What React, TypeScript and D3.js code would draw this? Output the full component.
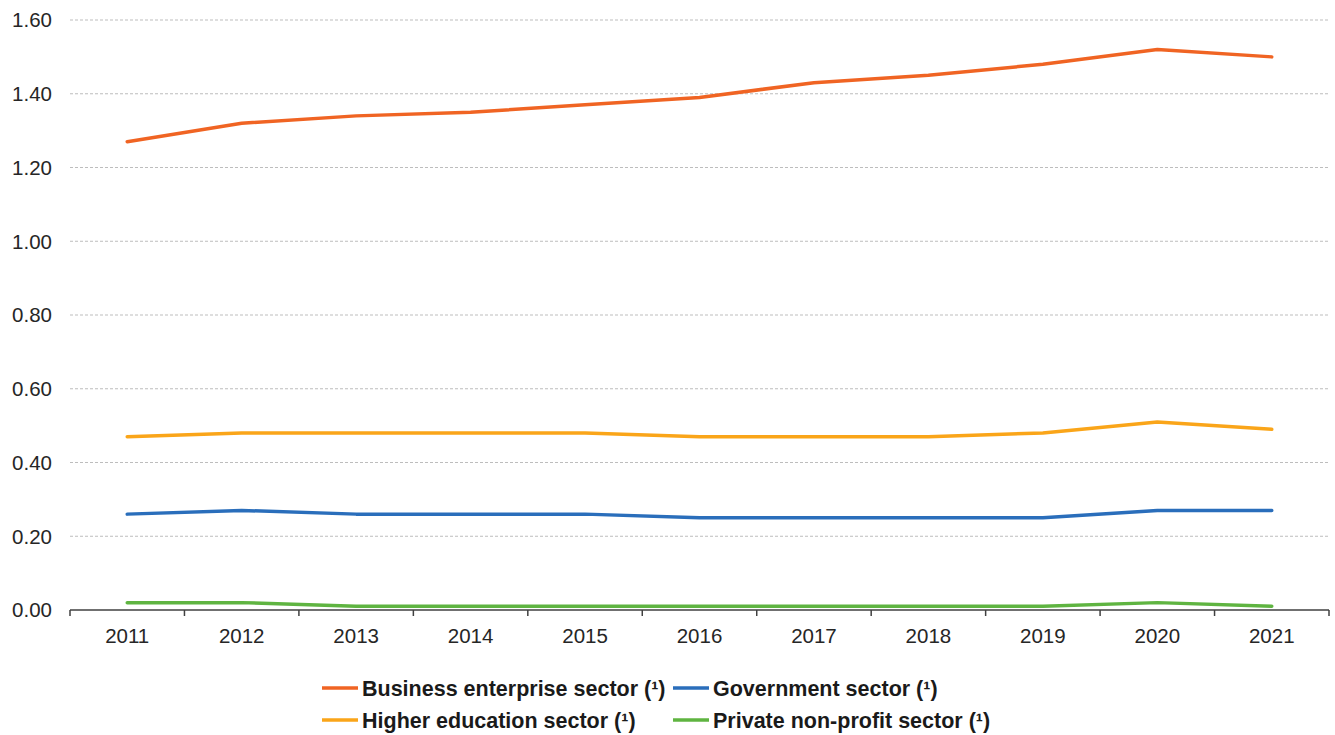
import React from "react";
import * as d3 from "d3";

const years = ["2011","2012","2013","2014","2015","2016","2017","2018","2019","2020","2021"];
const business = [1.27,1.32,1.34,1.35,1.37,1.39,1.43,1.45,1.48,1.52,1.50];
const government = [0.26,0.27,0.26,0.26,0.26,0.25,0.25,0.25,0.25,0.27,0.27];
const higher = [0.47,0.48,0.48,0.48,0.48,0.47,0.47,0.47,0.48,0.51,0.49];
const privateNP = [0.02,0.02,0.01,0.01,0.01,0.01,0.01,0.01,0.01,0.02,0.01];
const yTicks = [0,0.2,0.4,0.6,0.8,1.0,1.2,1.4,1.6];

const series = [
  { name: "Business enterprise sector (\u00B9)", values: business, color: "#F06423" },
  { name: "Government sector (\u00B9)", values: government, color: "#2A6EBB" },
  { name: "Higher education sector (\u00B9)", values: higher, color: "#FAA519" },
  { name: "Private non-profit sector (\u00B9)", values: privateNP, color: "#5FB441" },
];

const W = 1335, H = 735;
const left = 70, right = 1329, top = 20, bottom = 610;
const font = "'Liberation Sans', Arial, sans-serif";

export default function App() {
  const x = d3.scaleBand<string>().domain(years).range([left, right]);
  const y = d3.scaleLinear().domain([0, 1.6]).range([bottom, top]);
  const line = d3.line<number>()
    .x((_, i) => (x(years[i]) as number) + x.bandwidth() / 2)
    .y((d) => y(d));
  const boundaries = years.map((yr) => x(yr) as number).concat([right]);
  const legendPos = [
    { lx: 322, ly: 688 },
    { lx: 673, ly: 688 },
    { lx: 322, ly: 720 },
    { lx: 673, ly: 720 },
  ];
  return (
    <svg width={W} height={H} style={{ position: "absolute", left: 0, top: 0, background: "#fff" }}>
      {yTicks.map((t) => (
        <g key={t}>
          {t > 0 && (
            <line x1={left} x2={right} y1={y(t)} y2={y(t)} stroke="#bdbdbd" strokeWidth={1} strokeDasharray="3,2" />
          )}
          <text x={52} y={y(t)} dy="0.36em" textAnchor="end" fontFamily={font} fontSize={20.5} fill="#262626">
            {d3.format(".2f")(t)}
          </text>
        </g>
      ))}
      <line x1={left} x2={right} y1={bottom} y2={bottom} stroke="#404040" strokeWidth={1.5} />
      {boundaries.map((b, i) => (
        <line key={i} x1={b} x2={b} y1={bottom} y2={bottom + 6} stroke="#404040" strokeWidth={1.5} />
      ))}
      {years.map((yr) => (
        <text key={yr} x={(x(yr) as number) + x.bandwidth() / 2} y={643} textAnchor="middle" fontFamily={font} fontSize={20.5} fill="#262626">
          {yr}
        </text>
      ))}
      {series.map((s) => (
        <path key={s.name} d={line(s.values) || ""} fill="none" stroke={s.color} strokeWidth={3.5} strokeLinejoin="round" strokeLinecap="round" />
      ))}
      {series.map((s, i) => (
        <g key={s.name}>
          <line x1={legendPos[i].lx} x2={legendPos[i].lx + 36} y1={legendPos[i].ly} y2={legendPos[i].ly} stroke={s.color} strokeWidth={3.5} />
          <text x={legendPos[i].lx + 40} y={legendPos[i].ly} dy="0.36em" fontFamily={font} fontSize={21.5} fontWeight="bold" fill="#1a1a1a">
            {s.name}
          </text>
        </g>
      ))}
    </svg>
  );
}
